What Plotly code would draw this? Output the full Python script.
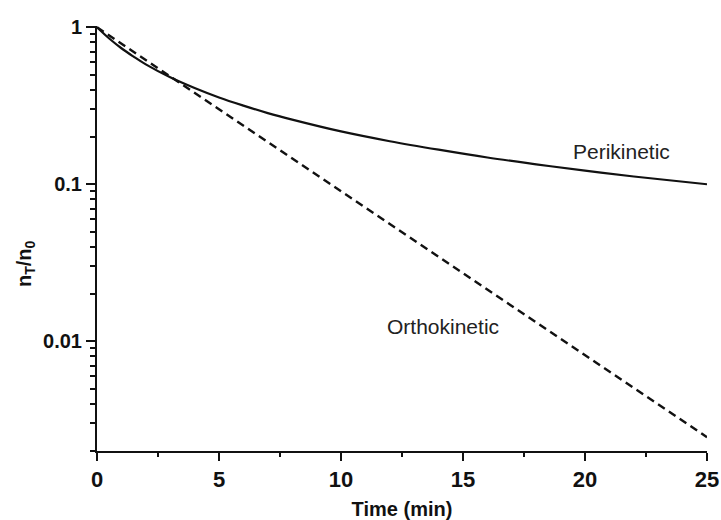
import plotly.graph_objects as go

# Time points (min) and normalised particle number n_T/n_0
peri_time = [0, 0.5, 1, 1.5, 2, 3, 4, 5, 6, 7, 8, 10, 12, 14, 16, 18, 20, 22, 25]
peri_ratio = [1.0, 0.848, 0.735, 0.65, 0.58, 0.48, 0.41, 0.357, 0.317, 0.284, 0.258,
              0.217, 0.188, 0.166, 0.148, 0.134, 0.122, 0.112, 0.10]

ortho_time = [0, 5, 10, 15, 20, 25]
ortho_ratio = [1.0, 0.30, 0.090, 0.0272, 0.0082, 0.00245]

x_ticks = [0, 5, 10, 15, 20, 25]
x_minor = [2.5, 7.5, 12.5, 17.5, 22.5]
y_ticks = [0.01, 0.1, 1]
y_tick_text = ["0.01", "0.1", "1"]
y_minor = [m * d for d in (0.001, 0.01, 0.1) for m in range(2, 10) if m * d >= 0.002]

fig = go.Figure()
fig.add_trace(go.Scatter(
    x=peri_time, y=peri_ratio, mode="lines", line_shape="spline",
    line=dict(color="#111111", width=2.2), showlegend=False))
fig.add_trace(go.Scatter(
    x=ortho_time, y=ortho_ratio, mode="lines",
    line=dict(color="#111111", width=2.4, dash="8px,5px"), showlegend=False))

font = "Liberation Sans, Arial, Helvetica, sans-serif"

fig.update_layout(
    width=721, height=520,
    margin=dict(l=97, r=14, t=26, b=69),
    paper_bgcolor="white", plot_bgcolor="white",
    font=dict(family=font, color="#111111"),
    xaxis=dict(
        range=[0, 25], showgrid=False, zeroline=False, automargin=False,
        showline=True, linecolor="#111111", linewidth=2,
        tickvals=x_ticks, ticktext=[f"<b>{v}</b>" for v in x_ticks],
        ticks="outside", ticklen=8, tickwidth=2, tickcolor="#111111",
        tickfont=dict(size=22, family=font, color="#111111"),
        minor=dict(tickvals=x_minor, ticks="outside", ticklen=4, tickwidth=2,
                   tickcolor="#111111", showgrid=False),
        title=dict(text="<b>Time (min)</b>", font=dict(size=20, family=font), standoff=12),
    ),
    yaxis=dict(
        type="log", range=[-2.699, 0.008], showgrid=False, zeroline=False,
        automargin=False,
        showline=True, linecolor="#111111", linewidth=2,
        tickvals=y_ticks, ticktext=[f"<b>{t}</b>" for t in y_tick_text],
        ticks="outside", ticklen=9, tickwidth=2, tickcolor="#111111",
        tickfont=dict(size=20, family=font, color="#111111"),
        minor=dict(tickvals=y_minor, ticks="outside", ticklen=5, tickwidth=2,
                   tickcolor="#111111", showgrid=False),
    ),
    annotations=[
        dict(text="<b>n<sub>T</sub>/n<sub>0</sub></b>", textangle=-90,
             xref="paper", yref="paper", x=-0.118, y=0.44,
             xanchor="center", yanchor="middle", showarrow=False,
             font=dict(size=20, family=font, color="#111111")),
        dict(text="Perikinetic", x=21.5, y=-0.79, xref="x", yref="y",
             showarrow=False, font=dict(size=21, family=font, color="#222222")),
        dict(text="Orthokinetic", x=14.2, y=-1.905, xref="x", yref="y",
             showarrow=False, font=dict(size=21, family=font, color="#222222")),
    ],
)

fig.write_html("out.html")
